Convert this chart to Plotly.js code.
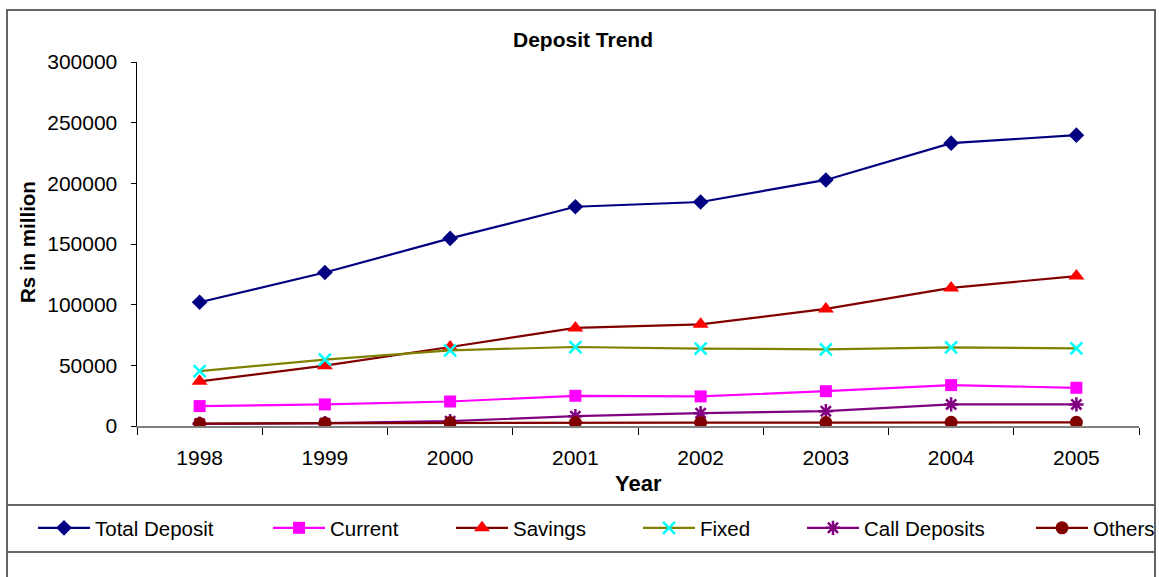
<!DOCTYPE html>
<html>
<head>
<meta charset="utf-8">
<script src="https://cdn.plot.ly/plotly-3.0.1.min.js"></script>
<style>html,body{margin:0;padding:0;background:#fff;}#chart{width:1159px;height:577px;}</style>
</head>
<body>
<div id="chart"></div>
<script>
const years = ['1998','1999','2000','2001','2002','2003','2004','2005'];
const totalDeposit = [102000,126500,154600,180700,184600,202800,233100,239700];
const current = [16400,17800,20200,24900,24400,28700,33700,31500];
const savings = [36800,49700,65100,80800,83800,96500,113800,123600];
const fixed = [45300,54700,62400,65100,63800,63200,64800,64000];
const callDeposits = [1800,2300,4000,8100,10600,12200,17800,17800];
const others = [2000,2300,2800,2900,2800,2800,3000,3000];
const yTicks = [0,50000,100000,150000,200000,250000,300000];

const W = 1159, H = 577;
const legendLeft = [38, 273, 456, 643, 807, 1036];

function tr(name, y, lineColor, symbol, mColor, size, mLineColor, mLineW, legendId) {
  return {
    type: 'scatter', mode: 'lines+markers', name: name, x: years, y: y,
    line: {color: lineColor, width: 2.2},
    marker: {symbol: symbol, color: mColor, size: size,
             line: {color: mLineColor, width: mLineW}},
    legend: legendId
  };
}

const data = [
  tr('Total Deposit', totalDeposit, '#000080', 'diamond', '#000080', 12, '#000080', 0, 'legend'),
  tr('Current', current, '#FF00FF', 'square', '#FF00FF', 12, '#FF00FF', 0, 'legend2'),
  tr('Savings', savings, '#800000', 'triangle-up', '#FF0000', 14, '#FF0000', 0, 'legend3'),
  tr('Fixed', fixed, '#808000', 'x-thin-open', '#00FFFF', 12, '#00FFFF', 2.5, 'legend4'),
  tr('Call Deposits', callDeposits, '#800080', 'asterisk-open', '#800080', 12, '#800080', 2.5, 'legend5'),
  tr('Others', others, '#800000', 'circle', '#800000', 13, '#800000', 0, 'legend6')
];

function leg(i) {
  return {
    xref: 'container', yref: 'container',
    x: (legendLeft[i] - 5) / W, y: 1 - 528 / H,
    xanchor: 'left', yanchor: 'middle',
    orientation: 'h', bgcolor: 'rgba(0,0,0,0)', borderwidth: 0,
    itemwidth: 52, itemclick: false, itemdoubleclick: false,
    font: {family: 'Liberation Sans, Arial, sans-serif', size: 20.5, color: '#000'}
  };
}

const l = 137, r = 20, t = 62, b = 151;
const pw = W - l - r, ph = H - t - b;
const px = v => (v - l) / pw;
const py = v => (H - b - v) / ph;

const layout = {
  width: W, height: H,
  margin: {l: l, r: r, t: t, b: b, pad: 0},
  paper_bgcolor: '#fff', plot_bgcolor: '#fff',
  font: {family: 'Liberation Sans, Arial, sans-serif', size: 21, color: '#000'},
  title: {text: '<b>Deposit Trend</b>', xref: 'container', yref: 'container',
          x: 583 / W, y: 1 - 40 / H, xanchor: 'center', yanchor: 'middle',
          font: {size: 21, color: '#000'}},
  showlegend: true,
  legend: leg(0), legend2: leg(1), legend3: leg(2), legend4: leg(3), legend5: leg(4), legend6: leg(5),
  xaxis: {
    type: 'category', range: [-0.5, 7.5], tickson: 'boundaries',
    ticks: 'outside', ticklen: 7, tickcolor: '#000', tickwidth: 1,
    showline: true, linecolor: '#808080', linewidth: 1.5,
    showgrid: false, zeroline: false, ticklabelstandoff: 12,
    tickfont: {size: 21}, fixedrange: true
  },
  yaxis: {
    range: [0, 300000], tickvals: yTicks, ticktext: yTicks.map(String),
    ticks: 'outside', ticklen: 5, tickcolor: '#000', tickwidth: 1,
    showline: true, linecolor: '#000', linewidth: 1.5,
    showgrid: false, zeroline: false, ticklabelstandoff: 9,
    tickfont: {size: 21}, fixedrange: true
  },
  annotations: [
    {text: '<b>Rs in million</b>', xref: 'paper', yref: 'paper', x: px(27), y: py(242),
     textangle: -90, showarrow: false, xanchor: 'center', yanchor: 'middle', font: {size: 20.5}},
    {text: '<b>Year</b>', xref: 'paper', yref: 'paper', x: px(638), y: py(484),
     showarrow: false, xanchor: 'center', yanchor: 'middle', font: {size: 22}}
  ],
  shapes: [
    {type: 'rect', xref: 'paper', yref: 'paper', x0: px(7), x1: px(1155), y0: py(590), y1: py(10),
     line: {color: '#333', width: 1.5}, layer: 'below'},
    {type: 'line', xref: 'paper', yref: 'paper', x0: px(7), x1: px(1155), y0: py(505), y1: py(505),
     line: {color: '#666', width: 2}},
    {type: 'line', xref: 'paper', yref: 'paper', x0: px(7), x1: px(1155), y0: py(552), y1: py(552),
     line: {color: '#666', width: 2}}
  ]
};

Plotly.newPlot('chart', data, layout, {displayModeBar: false, staticPlot: true});
</script>
</body>
</html>
